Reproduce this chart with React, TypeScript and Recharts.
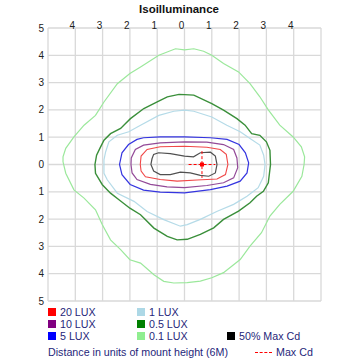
import React from 'react';
import { ScatterChart, Scatter, XAxis, YAxis, CartesianGrid } from 'recharts';

// contour outlines (units of mount height)
const lux20: [number, number][] = [
  [0, 0.67], [0.82, 0.63], [1.31, 0.55], [1.53, 0.37], [1.59, 0], [1.5, -0.37], [1.19, -0.53],
  [0.46, -0.57], [-0.27, -0.61], [-0.89, -0.55], [-1.43, -0.45], [-1.59, -0.24], [-1.62, 0],
  [-1.59, 0.31], [-1.37, 0.55], [-0.89, 0.65], [0, 0.67],
];
const lux10: [number, number][] = [
  [0, 0.83], [0.82, 0.82], [1.43, 0.73], [1.8, 0.55], [1.92, 0.24], [1.95, -0.12], [1.8, -0.49],
  [1.43, -0.67], [0.82, -0.77], [0, -0.85], [-0.64, -0.82], [-1.25, -0.73], [-1.74, -0.55],
  [-1.92, -0.31], [-1.96, 0], [-1.95, 0.24], [-1.8, 0.55], [-1.5, 0.71], [-0.89, 0.79], [0, 0.83],
];
const lux5: [number, number][] = [
  [0, 1.01], [0.95, 0.98], [1.56, 0.92], [2.0, 0.73], [2.23, 0.43], [2.35, 0.06], [2.29, -0.31],
  [2.04, -0.61], [1.56, -0.79], [0.95, -0.92], [0, -1.04], [-0.89, -1.01], [-1.5, -0.94],
  [-1.99, -0.73], [-2.29, -0.37], [-2.38, 0], [-2.29, 0.43], [-2.05, 0.73], [-1.74, 0.92],
  [-1.5, 0.98], [-0.89, 1.01], [0, 1.01],
];
const lux1: [number, number][] = [
  [0, 1.99], [0.34, 1.95], [1.0, 1.74], [1.55, 1.44], [2.04, 1.2], [2.4, 0.95], [2.76, 0.71],
  [2.9, 0.34], [2.95, 0], [2.9, -0.43], [2.7, -0.85], [2.29, -1.16], [1.8, -1.46], [1.2, -1.71],
  [0.58, -2.01], [0.1, -2.2], [-0.15, -2.26], [-0.76, -2.02], [-1.37, -1.72], [-1.85, -1.35],
  [-2.46, -1.05], [-2.83, -0.56], [-2.95, -0.32], [-2.95, 0.17], [-2.89, 0.46], [-2.77, 0.83],
  [-2.46, 1.07], [-2.04, 1.2], [-1.61, 1.44], [-0.94, 1.8], [-0.39, 1.95], [0, 1.99],
];
const lux05: [number, number][] = [
  [0, 2.56], [0.34, 2.54], [1.0, 2.23], [1.43, 1.99], [1.92, 1.68], [2.22, 1.44], [2.46, 1.13],
  [2.76, 1.07], [3.0, 0.83], [3.13, 0.52], [3.15, 0], [3.07, -0.67], [2.89, -0.98], [2.64, -1.16],
  [2.4, -1.4], [1.98, -1.71], [1.43, -2.01], [1.07, -2.32], [0.58, -2.56], [0.1, -2.74],
  [-0.27, -2.76], [-0.63, -2.63], [-1.12, -2.33], [-1.61, -1.84], [-2, -1.6], [-2.4, -1.29],
  [-2.71, -1.05], [-3.01, -0.74], [-3.26, -0.32], [-3.28, 0], [-3.22, 0.34], [-3.1, 0.59],
  [-2.95, 0.89], [-2.71, 1.13], [-2.34, 1.32], [-2.16, 1.5], [-1.98, 1.68], [-1.49, 2.05],
  [-1, 2.29], [-0.63, 2.48], [-0.2, 2.57], [0, 2.56],
];
const lux01: [number, number][] = [
  [0, 4.2], [0.34, 4.24], [0.7, 4.15], [1.0, 4.0], [1.43, 3.7], [1.98, 3.39], [2.4, 2.96],
  [2.76, 2.48], [3.07, 2.0], [3.49, 1.44], [3.98, 1.01], [4.28, 0.65], [4.4, 0.28], [4.38, 0],
  [4.3, -0.43], [3.98, -0.98], [3.49, -1.46], [3.13, -1.89], [2.82, -2.5], [2.4, -2.99],
  [2.04, -3.48], [1.43, -3.96], [1.0, -4.15], [0.58, -4.27], [0.1, -4.33], [-0.39, -4.34],
  [-0.76, -4.28], [-1.12, -4.04], [-1.61, -3.61], [-2, -3.49], [-2.34, -3.12], [-2.71, -2.76],
  [-3.01, -2.21], [-3.26, -1.66], [-3.68, -1.23], [-4.05, -0.93], [-4.35, -0.32], [-4.45, 0.1],
  [-4.45, 0.28], [-4.35, 0.59], [-4.05, 1.01], [-3.68, 1.44], [-3.26, 1.8], [-2.95, 2.29],
  [-2.46, 2.96], [-2, 3.33], [-1.61, 3.57], [-0.94, 4.0], [-0.33, 4.24], [0, 4.2],
];
const halfMaxCd: [number, number][] = [
  [0, 0.31], [0.33, 0.28], [0.58, 0.43], [0.95, 0.45], [1.13, 0.31], [1.19, 0], [1.13, -0.31],
  [0.89, -0.43], [0.58, -0.4], [0.21, -0.31], [-0.15, -0.28], [-0.52, -0.37], [-0.89, -0.37],
  [-1.13, -0.24], [-1.23, 0], [-1.19, 0.21], [-1.13, 0.37], [-0.95, 0.43], [-0.52, 0.4], [0, 0.31],
];
const maxCd: [number, number] = [0.64, 0];
const crossH: [number, number][] = [[0.15, 0], [1.13, 0]];
const crossV: [number, number][] = [[0.64, 0.49], [0.64, -0.49]];

const axisTicks = [-5, -4, -3, -2, -1, 0, 1, 2, 3, 4, 5];

const legendCol1 = ['20 LUX', '10 LUX', '5 LUX'];
const legendCol1Colors = ['#ff0000', '#800080', '#0000ff'];
const legendCol2 = ['1 LUX', '0.5 LUX', '0.1 LUX'];
const legendCol2Colors = ['#add8e6', '#008000', '#90ee90'];

const toPts = (arr: [number, number][]) => arr.map(([x, y]) => ({ x, y }));
const noDot = () => <g />;

const contours = [
  { key: 'lux01', pts: lux01, color: '#9be89b', w: 1.2 },
  { key: 'lux05', pts: lux05, color: '#3a8f3a', w: 1.4 },
  { key: 'lux1', pts: lux1, color: '#b5dbe8', w: 1.2 },
  { key: 'lux5', pts: lux5, color: '#3535e0', w: 1.2 },
  { key: 'lux10', pts: lux10, color: '#934a98', w: 1.2 },
  { key: 'lux20', pts: lux20, color: '#f04848', w: 1.1 },
  { key: 'half', pts: halfMaxCd, color: '#505050', w: 1.2 },
];

const font = '"Liberation Sans", Arial, sans-serif';
const navy = '#1f1f7a';

export default function App() {
  return (
    <div style={{ position: 'absolute', left: 0, top: 0, width: 360, height: 360, background: '#fff', fontFamily: font }}>
      <div style={{ position: 'absolute', left: 0, width: 358, top: 3, textAlign: 'center', fontSize: 11.5, fontWeight: 'bold', color: '#111' }}>
        Isoilluminance
      </div>
      <ScatterChart width={360} height={360} margin={{ top: 16, right: 39, bottom: 59, left: 0 }}>
        <CartesianGrid stroke="#d9d9d9" strokeWidth={1.3} />
        <XAxis
          type="number" dataKey="x" orientation="top" domain={[-5, 5]} ticks={axisTicks}
          height={12} tickSize={0} tickMargin={0} axisLine={false} tickLine={false} dx={-3} dy={1}
          tick={{ fontSize: 10, fill: '#222', fontFamily: font }}
          tickFormatter={(v: number) => (Math.abs(v) === 5 ? '' : String(Math.abs(v)))}
          allowDataOverflow
        />
        <YAxis
          type="number" dataKey="y" domain={[-5, 5]} ticks={axisTicks} width={48}
          tickSize={0} tickMargin={4} axisLine={false} tickLine={false}
          tick={{ fontSize: 10, fill: '#222', fontFamily: font }}
          tickFormatter={(v: number) => String(Math.abs(v))}
          allowDataOverflow
        />
        {contours.map(c => (
          <Scatter key={c.key} data={toPts(c.pts)} line={{ stroke: c.color, strokeWidth: c.w }} lineType="joint" shape={noDot} isAnimationActive={false} />
        ))}
        <Scatter data={toPts(crossH)} line={{ stroke: '#ff0000', strokeWidth: 1, strokeDasharray: '3 2' }} lineType="joint" shape={noDot} isAnimationActive={false} />
        <Scatter data={toPts(crossV)} line={{ stroke: '#ff0000', strokeWidth: 1, strokeDasharray: '3 2' }} lineType="joint" shape={noDot} isAnimationActive={false} />
        <Scatter
          data={[{ x: maxCd[0], y: maxCd[1] }]}
          isAnimationActive={false}
          shape={(p: any) => <rect x={p.cx - 2} y={p.cy - 2} width={4} height={4} fill="#ff0000" />}
        />
      </ScatterChart>
      {legendCol1.map((label, i) => (
        <div key={label} style={{ position: 'absolute', left: 48, top: 306 + i * 12, height: 12, display: 'flex', alignItems: 'center', fontSize: 10.7, color: navy, whiteSpace: 'pre' }}>
          <span style={{ display: 'inline-block', width: 8, height: 8, background: legendCol1Colors[i], marginRight: 4 }} />
          {label}
        </div>
      ))}
      {legendCol2.map((label, i) => (
        <div key={label} style={{ position: 'absolute', left: 137, top: 306 + i * 12, height: 12, display: 'flex', alignItems: 'center', fontSize: 10.7, color: navy, whiteSpace: 'pre' }}>
          <span style={{ display: 'inline-block', width: 8, height: 8, background: legendCol2Colors[i], marginRight: 4 }} />
          {label}
        </div>
      ))}
      <div style={{ position: 'absolute', left: 227, top: 330, height: 12, display: 'flex', alignItems: 'center', fontSize: 10.7, color: navy }}>
        <span style={{ display: 'inline-block', width: 8, height: 8, background: '#000', marginRight: 4 }} />
        50% Max Cd
      </div>
      <div style={{ position: 'absolute', left: 48, top: 346, height: 12, display: 'flex', alignItems: 'center', fontSize: 10.7, color: navy }}>
        Distance in units of mount height (6M)
      </div>
      <div style={{ position: 'absolute', left: 255, top: 346, height: 12, display: 'flex', alignItems: 'center', fontSize: 10.7, color: navy }}>
        <span style={{ display: 'inline-block', width: 17, borderTop: '1px dashed #ff0000', marginRight: 4 }} />
        Max Cd
      </div>
    </div>
  );
}
